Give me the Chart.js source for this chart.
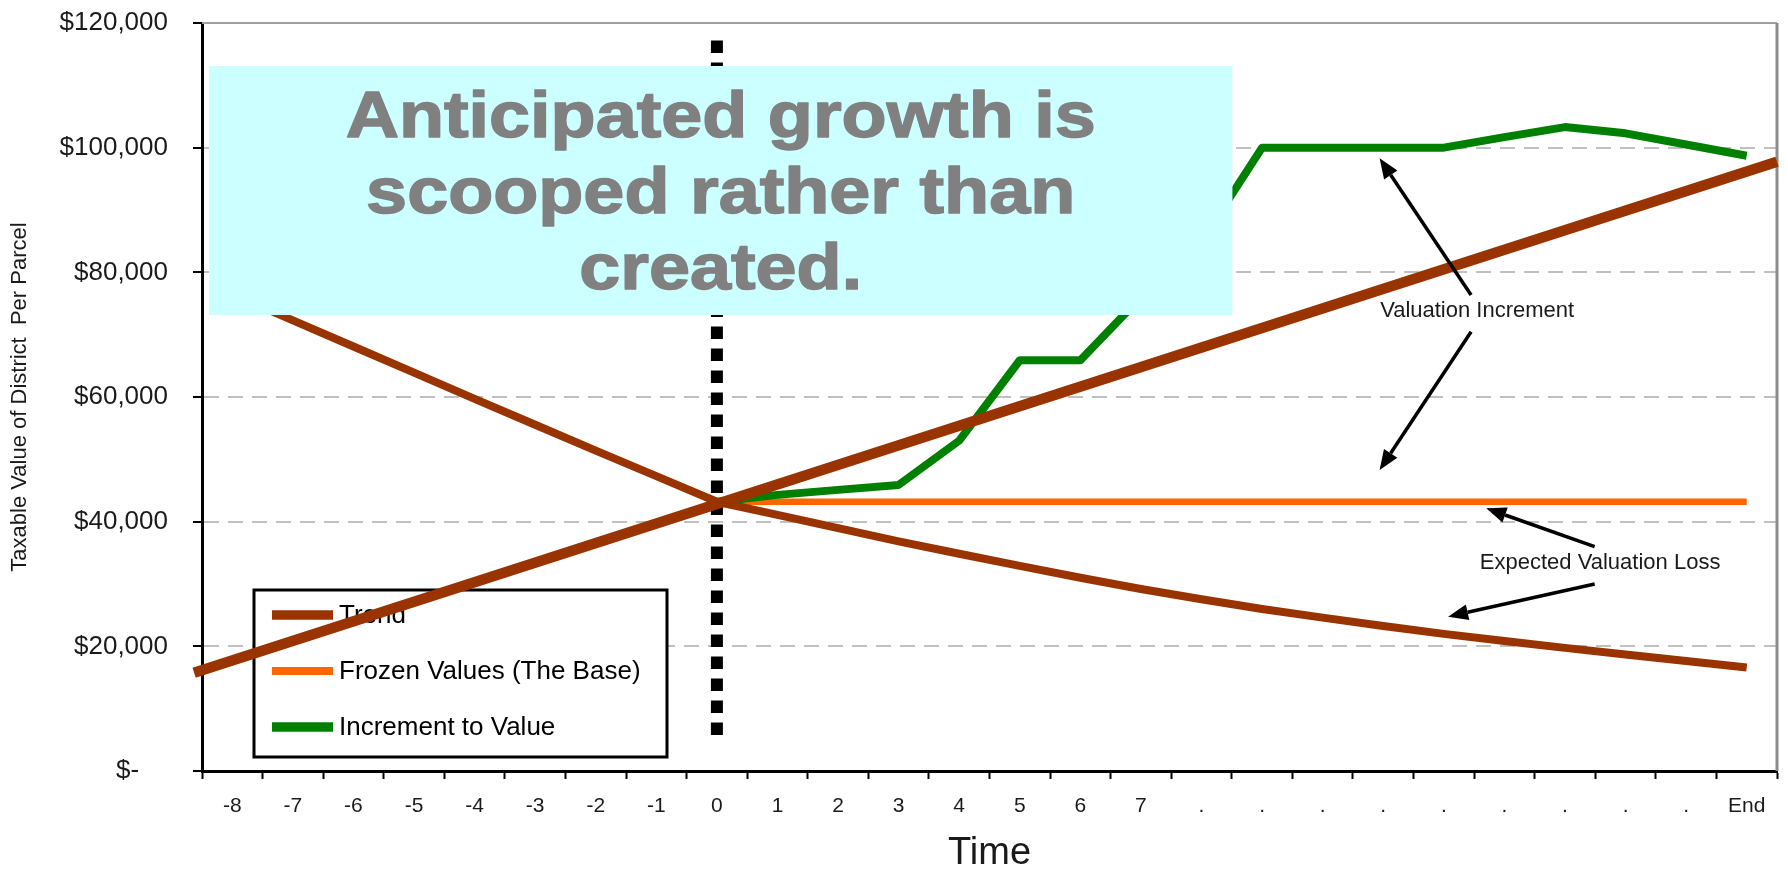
<!DOCTYPE html>
<html>
<head>
<meta charset="utf-8">
<title>Taxable value per parcel</title>
<script src="https://cdn.jsdelivr.net/npm/chart.js@4.4.1/dist/chart.umd.min.js"></script>
<style>
  html, body { margin: 0; padding: 0; background: #fff; }
  #chart { display: block; }
</style>
</head>
<body>
<canvas id="chart" width="1788" height="871"></canvas>
<script>
// Time axis: eight years before the district, then the district years up to End
const timeLabels = ['-8', '-7', '-6', '-5', '-4', '-3', '-2', '-1', '0', '1', '2', '3', '4', '5', '6', '7',
                    '.', '.', '.', '.', '.', '.', '.', '.', '.', 'End'];

const trendValues = [76500, 72300, 68100, 63900, 59700, 55550, 51400, 47300, 43200,
                     41100, 38950, 36850, 34850, 32900, 31000, 29200, 27550, 26000,
                     24600, 23250, 22000, 20850, 19750, 18700, 17650, 16600];

const frozenValues = [null, null, null, null, null, null, null, null, 43200,
                      43200, 43200, 43200, 43200, 43200, 43200, 43200, 43200, 43200,
                      43200, 43200, 43200, 43200, 43200, 43200, 43200, 43200];

const incrementValues = [null, null, null, null, null, null, null, null, 43200,
                         44300, 45100, 45900, 53000, 65900, 65900, 76000, 85000, 100000,
                         100000, 100000, 100000, 101700, 103300, 102300, 100500, 98700];

// straight growth line drawn across the whole plot (x in category units)
const growthLineX = [-0.63, 25.5];
const growthLineY = [15750, 97750];

// dotted marker at year 0
const markerIndex = 8;
const markerY = [117200, 5100];

// callout arrows: [fromX, fromY, toX, toY] in axis units
const arrows = [
  [20.45, 76360, 18.94, 98290],
  [20.45, 70480, 18.94, 48290],
  [22.49, 35990, 20.70, 42140],
  [22.49, 30000, 20.07, 24760]
];
const notes = [
  { text: 'Valuation Increment', x: 20.55, y: 73800 },
  { text: 'Expected Valuation Loss', x: 22.58, y: 33370 }
];

const calloutBox = { x0: -0.385, x1: 16.51, y0: 113100, y1: 73160 };
const calloutLines = ['Anticipated growth is', 'scooped rather than', 'created.'];

const FONT = '"Liberation Sans", Arial, sans-serif';
Chart.defaults.font.family = FONT;

function drawArrow(ctx, x1, y1, x2, y2) {
  const ang = Math.atan2(y2 - y1, x2 - x1);
  const head = 20, half = 8;
  const bx = x2 - head * Math.cos(ang);
  const by = y2 - head * Math.sin(ang);
  ctx.beginPath();
  ctx.moveTo(x1, y1);
  ctx.lineTo(bx, by);
  ctx.stroke();
  ctx.beginPath();
  ctx.moveTo(x2, y2);
  ctx.lineTo(bx + half * Math.sin(ang), by - half * Math.cos(ang));
  ctx.lineTo(bx - half * Math.sin(ang), by + half * Math.cos(ang));
  ctx.closePath();
  ctx.fill();
}

function drawLegend(chart) {
  const { ctx, chartArea: a } = chart;
  const left = a.left + 52, top = a.top + 567, w = 413, h = 167;
  ctx.save();
  ctx.fillStyle = '#fff';
  ctx.fillRect(left, top, w, h);
  ctx.strokeStyle = '#000';
  ctx.lineWidth = 3;
  ctx.strokeRect(left, top, w, h);
  ctx.font = '26px ' + FONT;
  ctx.textBaseline = 'middle';
  chart.data.datasets.slice(0, 3).forEach((ds, i) => {
    const y = top + 25 + i * 56;
    ctx.strokeStyle = ds.borderColor;
    ctx.lineWidth = ds.borderWidth + 1.5;
    ctx.beginPath();
    ctx.moveTo(left + 18, y);
    ctx.lineTo(left + 79, y);
    ctx.stroke();
    ctx.fillStyle = '#000';
    ctx.fillText(ds.label, left + 85, y + 1);
  });
  ctx.restore();
}

function drawCallout(chart) {
  const { ctx, scales: { xl, y } } = chart;
  const x0 = xl.getPixelForValue(calloutBox.x0), x1 = xl.getPixelForValue(calloutBox.x1);
  const y0 = y.getPixelForValue(calloutBox.y0), y1 = y.getPixelForValue(calloutBox.y1);
  ctx.save();
  ctx.fillStyle = '#ccffff';
  ctx.fillRect(x0, y0, x1 - x0, y1 - y0);
  ctx.fillStyle = '#808080';
  ctx.strokeStyle = '#808080';
  ctx.lineWidth = 1.5;
  ctx.lineJoin = 'round';
  ctx.font = 'bold 65px ' + FONT;
  ctx.textAlign = 'center';
  ctx.textBaseline = 'alphabetic';
  const cx = (x0 + x1) / 2;
  calloutLines.forEach((t, i) => {
    ctx.save();
    ctx.translate(cx, y0 + 71 + i * 75.8);
    ctx.scale(1.135, 1);
    ctx.fillText(t, 0, 0);
    ctx.strokeText(t, 0, 0);
    ctx.restore();
  });
  ctx.restore();
}

function drawNotes(chart) {
  const { ctx, scales: { xl, y } } = chart;
  ctx.save();
  ctx.strokeStyle = '#000';
  ctx.fillStyle = '#000';
  ctx.lineWidth = 3.5;
  arrows.forEach(([fx, fy, tx, ty]) => {
    drawArrow(ctx, xl.getPixelForValue(fx), y.getPixelForValue(fy),
                   xl.getPixelForValue(tx), y.getPixelForValue(ty));
  });
  ctx.font = '22px ' + FONT;
  ctx.fillStyle = '#1a1a1a';
  ctx.textAlign = 'center';
  ctx.textBaseline = 'middle';
  notes.forEach(n => ctx.fillText(n.text, xl.getPixelForValue(n.x), y.getPixelForValue(n.y)));
  ctx.restore();
}

const overlay = {
  id: 'overlay',
  beforeDatasetsDraw(chart) {
    // plot frame: thin grey top edge, heavier grey right edge
    const { ctx, chartArea: a } = chart;
    ctx.save();
    ctx.strokeStyle = '#a0a0a0';
    ctx.lineWidth = 2;
    ctx.beginPath();
    ctx.moveTo(a.left, a.top);
    ctx.lineTo(a.right, a.top);
    ctx.stroke();
    ctx.strokeStyle = '#8c8c8c';
    ctx.lineWidth = 3;
    ctx.beginPath();
    ctx.moveTo(a.right, a.top);
    ctx.lineTo(a.right, a.bottom);
    ctx.stroke();
    ctx.restore();
  },
  beforeDatasetDraw(chart, args) {
    // legend sits under the straight growth line
    if (args.index === 3) drawLegend(chart);
  },
  afterDatasetsDraw(chart) {
    drawCallout(chart);
    drawNotes(chart);
  }
};

const lineStyle = { pointRadius: 0, fill: false, tension: 0, borderCapStyle: 'butt', borderJoinStyle: 'round' };

new Chart(document.getElementById('chart'), {
  type: 'line',
  data: {
    labels: timeLabels,
    datasets: [
      { ...lineStyle, label: 'Trend', data: trendValues, borderColor: '#993300', borderWidth: 8, order: 1 },
      { ...lineStyle, label: 'Frozen Values (The Base)', data: frozenValues, borderColor: '#ff6600', borderWidth: 6.5, order: 4 },
      { ...lineStyle, label: 'Increment to Value', data: incrementValues, borderColor: '#008000', borderWidth: 8, order: 3 },
      { ...lineStyle, label: 'Growth', xAxisID: 'xl', clip: false, order: 0,
        data: growthLineX.map((x, i) => ({ x, y: growthLineY[i] })),
        borderColor: '#993300', borderWidth: 10.5 },
      { ...lineStyle, label: 'Year 0', xAxisID: 'xl', order: 2,
        data: markerY.map(v => ({ x: markerIndex, y: v })),
        borderColor: '#000', borderWidth: 12, borderDash: [12.5, 9.5] }
    ]
  },
  options: {
    responsive: false,
    devicePixelRatio: 1,
    animation: false,
    layout: { padding: { top: 23, right: 11, left: 0, bottom: 0 } },
    plugins: {
      legend: { display: false },
      tooltip: { enabled: false }
    },
    scales: {
      x: {
        type: 'category',
        offset: true,
        grid: { offset: true, drawOnChartArea: false, tickLength: 8, tickColor: '#000', tickWidth: 2 },
        border: { color: '#000', width: 3 },
        ticks: { autoSkip: false, maxRotation: 0, padding: 15, color: '#1a1a1a', font: { size: 21 } },
        title: { display: true, text: 'Time', color: '#1a1a1a', font: { size: 38, lineHeight: 0.9 }, padding: 0 },
        afterFit(s) { s.height = 100; }
      },
      xl: { type: 'linear', display: false, min: -0.5, max: 25.5 },
      y: {
        min: 0,
        max: 120000,
        ticks: {
          stepSize: 20000,
          padding: 25,
          color: '#1a1a1a',
          font: { size: 26 },
          callback: v => v === 0 ? '$-    ' : '$' + v.toLocaleString('en-US')
        },
        grid: { color: '#c0c0c0', lineWidth: 2, tickLength: 9, tickColor: '#000', tickWidth: 2 },
        border: { color: '#000', width: 3, dash: [15, 9] },
        title: { display: true, text: 'Taxable Value of District  Per Parcel', color: '#1a1a1a',
                 font: { size: 22 }, padding: { top: 7, bottom: 0 } },
        afterFit(s) {
          s.width = 202;
          // keep the plot top fixed by the layout padding alone
          s.paddingTop = 0;
          s.paddingBottom = 0;
        }
      }
    }
  },
  plugins: [overlay]
});
</script>
</body>
</html>
